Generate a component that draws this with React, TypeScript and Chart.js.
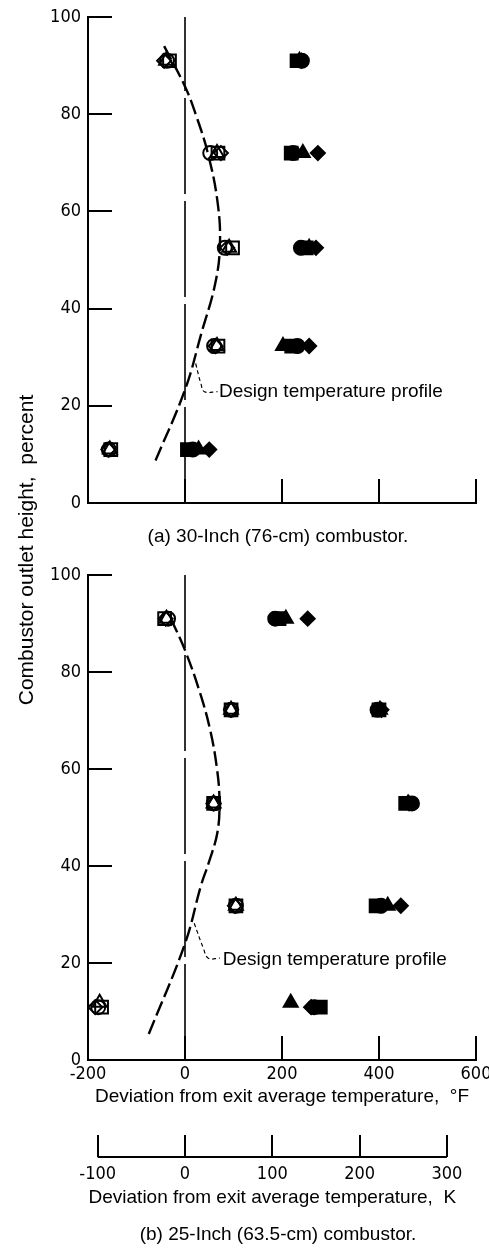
import React, { useEffect, useRef } from "react";
import { Chart, registerables } from "chart.js";

Chart.register(...registerables);

const NUM_FONT = "'Liberation Sans Narrow', 'DejaVu Sans Condensed', 'Arial Narrow', sans-serif";
const TXT_FONT = "'Liberation Sans', Arial, sans-serif";

// ---- axes ----
const Y_TICKS = [0, 20, 40, 60, 80, 100];
const F_TICKS = [-200, 0, 200, 400, 600];
const K_TICKS = [-100, 0, 100, 200, 300];
const F_MIN = -200;
const F_MAX = 600;

// ---- panel (a) 30-inch combustor ----
const A_HEIGHT = [91, 72, 52.5, 32.3, 11];
const A_OPEN_CIRCLE = [-37, 52, 82, 60, -157];
const A_OPEN_SQUARE = [-32, 68, 98, 68, -153];
const A_OPEN_TRIANGLE = [-39, 66, 91, 66, -155];
const A_OPEN_DIAMOND = [-43, 74, 87, 63, -158];
const A_FILLED_CIRCLE = [241, 223, 239, 232, 16];
const A_FILLED_SQUARE = [231, 219, 250, 220, 5];
const A_FILLED_TRIANGLE = [236, 243, 256, 202, 28];
const A_FILLED_DIAMOND = [240, 274, 270, 256, 50];
const A_PROFILE_X = [-43, 0, 22, 47, 67, 72, 62, 34, 0, -64];
const A_PROFILE_Y = [94, 85.7, 80, 72, 62, 53, 45, 35, 23.3, 8];
const A_LEADER_X = [22, 33, 40, 67];
const A_LEADER_Y = [28.7, 24.5, 22.9, 22.9];
const A_LABEL = { x: 70, y: 22.9, text: "Design temperature profile" };

// ---- panel (b) 25-inch combustor ----
const B_HEIGHT = [91, 72.2, 52.9, 31.8, 10.9];
const B_TRI_HEIGHT = [91, 72.2, 52.9, 31.8, 11.8];
const B_OPEN_CIRCLE = [-35, 95, 59, 105, -179];
const B_OPEN_SQUARE = [-42, 95, 59, 105, -172];
const B_OPEN_TRIANGLE = [-38, 95, 59, 105, -176];
const B_OPEN_DIAMOND = [-40, 95, 59, 103, -185];
const B_FILLED_CIRCLE = [186, 397, 468, 404, 266];
const B_FILLED_SQUARE = [194, 400, 455, 394, 279];
const B_FILLED_TRIANGLE = [208, 402, 460, 418, 218];
const B_FILLED_DIAMOND = [253, 405, 462, 445, 260];
const B_PROFILE_X = [-29, 0, 30, 52, 66, 71, 67, 50, 33, 0, -77];
const B_PROFILE_Y = [91, 84.5, 76, 68, 60, 53.5, 47, 41, 36, 24, 4.8];
const B_LEADER_X = [19, 38, 48, 72];
const B_LEADER_Y = [28.2, 23, 21, 21];
const B_LABEL = { x: 78, y: 20.6, text: "Design temperature profile" };

const ZERO_LINE_Y = [0, 100];

const Y_TITLE = "Combustor outlet height,  percent";
const F_TITLE = "Deviation from exit average temperature,  \u00B0F";
const K_TITLE = "Deviation from exit average temperature,  K";
const CAPTION_A = "(a) 30-Inch (76-cm) combustor.";
const CAPTION_B = "(b) 25-Inch (63.5-cm) combustor.";

type Pt = { x: number; y: number };
const pts = (xs: number[], ys: number[]): Pt[] => xs.map((x, i) => ({ x, y: ys[i] }));

const sym = (data: Pt[], style: string, radius: number, filled: boolean) => ({
  type: "scatter" as const,
  data,
  showLine: false,
  pointStyle: style,
  pointRadius: radius,
  borderWidth: 2,
  pointBorderWidth: 2,
  borderColor: "#000",
  pointBorderColor: "#000",
  backgroundColor: filled ? "#000" : "rgba(0,0,0,0)",
  pointBackgroundColor: filled ? "#000" : "rgba(0,0,0,0)",
});

const curve = (data: Pt[], dash: number[], width: number, tension: number) => ({
  type: "scatter" as const,
  data,
  showLine: true,
  pointRadius: 0,
  borderColor: "#000",
  borderWidth: width,
  borderDash: dash,
  tension,
  fill: false,
});

function panelDatasets(
  h: number[], hTri: number[],
  oc: number[], os: number[], ot: number[], od: number[],
  fc: number[], fs: number[], ft: number[], fd: number[],
  px: number[], py: number[], lx: number[], ly: number[]
) {
  return [
    curve(pts([0, 0], ZERO_LINE_Y), [96, 7], 1.6, 0),
    curve(pts(px, py), [15, 5], 2.4, 0.4),
    curve(pts(lx, ly), [4, 3], 1.2, 0.4),
    sym(pts(oc, h), "circle", 7, false),
    sym(pts(os, h), "rect", 9, false),
    sym(pts(ot, hTri), "triangle", 8, false),
    sym(pts(od, h), "rectRot", 7, false),
    sym(pts(fc, h), "circle", 7, true),
    sym(pts(fs, h), "rect", 9, true),
    sym(pts(ft, hTri), "triangle", 8, true),
    sym(pts(fd, h), "rectRot", 7, true),
  ];
}

const TICK_LEN = 24;

function drawInwardTicks(chart: any) {
  const { ctx, chartArea, scales } = chart;
  ctx.save();
  ctx.strokeStyle = "#000";
  ctx.lineWidth = 2;
  ctx.beginPath();
  F_TICKS.forEach((v) => {
    if (v === F_MIN) return;
    const px = Math.round(scales.x.getPixelForValue(v));
    ctx.moveTo(px, chartArea.bottom);
    ctx.lineTo(px, chartArea.bottom - TICK_LEN);
  });
  Y_TICKS.forEach((v) => {
    if (v === 0) return;
    const py = Math.round(scales.y.getPixelForValue(v));
    ctx.moveTo(chartArea.left, py);
    ctx.lineTo(chartArea.left + TICK_LEN, py);
  });
  ctx.stroke();
  ctx.restore();
}

function drawLabel(chart: any, lab: { x: number; y: number; text: string }) {
  const { ctx, scales } = chart;
  ctx.save();
  ctx.fillStyle = "#000";
  ctx.font = `19px ${TXT_FONT}`;
  ctx.textAlign = "left";
  ctx.textBaseline = "middle";
  ctx.fillText(lab.text, scales.x.getPixelForValue(lab.x), scales.y.getPixelForValue(lab.y));
  ctx.restore();
}

function text(ctx: any, s: string, x: number, y: number, size: number, rot = 0) {
  ctx.save();
  ctx.fillStyle = "#000";
  ctx.font = `${size}px ${TXT_FONT}`;
  ctx.textAlign = "center";
  ctx.textBaseline = "middle";
  ctx.translate(x, y);
  if (rot) ctx.rotate(rot);
  ctx.fillText(s, 0, 0);
  ctx.restore();
}

const setTicks = (vals: number[]) => (s: any) => {
  s.ticks = vals.map((value) => ({ value }));
};

const noSidePad = (h: number) => (s: any) => {
  s.height = h;
  s.paddingLeft = 0;
  s.paddingRight = 0;
};

const yScale = {
  type: "linear" as const,
  min: 0,
  max: 100,
  afterBuildTicks: setTicks(Y_TICKS),
  afterFit: (s: any) => {
    s.width = 88;
    s.paddingTop = 0;
    s.paddingBottom = 0;
  },
  ticks: { color: "#000", font: { family: NUM_FONT, size: 18 }, padding: 7 },
  grid: { display: false, drawTicks: false },
  border: { display: true, color: "#000", width: 2 },
};

const W = 489;
const A_H = 560;
const B_TOP = 380;
const B_H = 1248 - B_TOP;
const X_AXIS_H = 48;

export default function App() {
  const aRef = useRef<HTMLCanvasElement>(null);
  const bRef = useRef<HTMLCanvasElement>(null);

  useEffect(() => {
    const chartA = new Chart(aRef.current as HTMLCanvasElement, {
      type: "scatter",
      data: {
        datasets: panelDatasets(
          A_HEIGHT, A_HEIGHT,
          A_OPEN_CIRCLE, A_OPEN_SQUARE, A_OPEN_TRIANGLE, A_OPEN_DIAMOND,
          A_FILLED_CIRCLE, A_FILLED_SQUARE, A_FILLED_TRIANGLE, A_FILLED_DIAMOND,
          A_PROFILE_X, A_PROFILE_Y, A_LEADER_X, A_LEADER_Y
        ) as any,
      },
      options: {
        animation: false,
        responsive: false,
        maintainAspectRatio: false,
        layout: { autoPadding: false, padding: { top: 17, left: 0, right: 13, bottom: A_H - 503 } },
        plugins: { legend: { display: false }, tooltip: { enabled: false } },
        scales: {
          x: {
            type: "linear",
            min: F_MIN,
            max: F_MAX,
            afterBuildTicks: setTicks(F_TICKS),
            afterFit: noSidePad(0),
            ticks: { display: false },
            grid: { display: false, drawTicks: false },
            border: { display: true, color: "#000", width: 2 },
          },
          y: yScale as any,
        },
      },
      plugins: [
        {
          id: "decoA",
          afterDatasetsDraw(chart: any) {
            drawInwardTicks(chart);
            drawLabel(chart, A_LABEL);
            text(chart.ctx, CAPTION_A, 278, 537, 19);
          },
        },
      ],
    });

    const chartB = new Chart(bRef.current as HTMLCanvasElement, {
      type: "scatter",
      data: {
        datasets: panelDatasets(
          B_HEIGHT, B_TRI_HEIGHT,
          B_OPEN_CIRCLE, B_OPEN_SQUARE, B_OPEN_TRIANGLE, B_OPEN_DIAMOND,
          B_FILLED_CIRCLE, B_FILLED_SQUARE, B_FILLED_TRIANGLE, B_FILLED_DIAMOND,
          B_PROFILE_X, B_PROFILE_Y, B_LEADER_X, B_LEADER_Y
        ) as any,
      },
      options: {
        animation: false,
        responsive: false,
        maintainAspectRatio: false,
        layout: { autoPadding: false, padding: { top: 575 - B_TOP, left: 0, right: 13, bottom: 0 } },
        plugins: { legend: { display: false }, tooltip: { enabled: false } },
        scales: {
          x: {
            type: "linear",
            position: "bottom",
            weight: 1,
            min: F_MIN,
            max: F_MAX,
            afterBuildTicks: setTicks(F_TICKS),
            afterFit: noSidePad(X_AXIS_H),
            ticks: { color: "#000", font: { family: NUM_FONT, size: 18 }, padding: 4, maxRotation: 0, autoSkip: false },
            grid: { display: false, drawTicks: false },
            border: { display: true, color: "#000", width: 2 },
            title: {
              display: true,
              text: F_TITLE,
              color: "#000",
              font: { family: TXT_FONT, size: 19 },
              padding: { top: 0, bottom: 0 },
            },
          },
          xk: {
            type: "linear",
            position: "bottom",
            weight: 2,
            min: F_MIN / 1.8,
            max: F_MAX / 1.8,
            afterBuildTicks: setTicks(K_TICKS),
            afterFit: noSidePad(B_H - (1060 - B_TOP) - X_AXIS_H),
            ticks: { color: "#000", font: { family: NUM_FONT, size: 18 }, padding: 56, maxRotation: 0, autoSkip: false },
            grid: { display: false, drawTicks: false },
            border: { display: false },
          },
          y: yScale as any,
        },
      },
      plugins: [
        {
          id: "decoB",
          afterDatasetsDraw(chart: any) {
            drawInwardTicks(chart);
            drawLabel(chart, B_LABEL);
            const { ctx, scales } = chart;
            const xk = scales.xk;
            const lineY = xk.top + 49;
            const x0 = xk.getPixelForValue(K_TICKS[0]);
            const x1 = xk.getPixelForValue(K_TICKS[K_TICKS.length - 1]);
            ctx.save();
            ctx.strokeStyle = "#000";
            ctx.lineWidth = 2;
            ctx.beginPath();
            ctx.moveTo(x0, lineY);
            ctx.lineTo(x1, lineY);
            K_TICKS.forEach((v) => {
              const px = Math.round(xk.getPixelForValue(v));
              ctx.moveTo(px, lineY);
              ctx.lineTo(px, lineY - 22);
            });
            ctx.stroke();
            ctx.restore();
            text(ctx, K_TITLE, (x0 + x1) / 2, xk.top + 90, 19);
            text(ctx, CAPTION_B, 278, xk.top + 127, 19);
            text(ctx, Y_TITLE, 27, 550 - B_TOP, 21, -Math.PI / 2);
          },
        },
      ],
    });

    return () => {
      chartA.destroy();
      chartB.destroy();
    };
  }, []);

  return (
    <div style={{ position: "absolute", left: 0, top: 0, width: W, height: 1248, background: "#fff" }}>
      <canvas
        ref={bRef}
        width={W}
        height={B_H}
        style={{ position: "absolute", left: 0, top: B_TOP, width: W, height: B_H, zIndex: 1 }}
      />
      <canvas
        ref={aRef}
        width={W}
        height={A_H}
        style={{ position: "absolute", left: 0, top: 0, width: W, height: A_H, zIndex: 2 }}
      />
    </div>
  );
}
